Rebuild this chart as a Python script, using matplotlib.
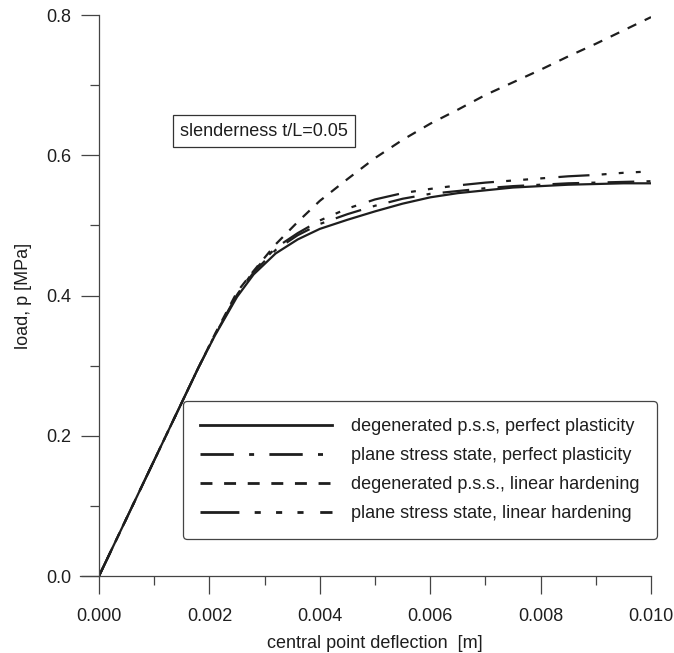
import matplotlib
matplotlib.use("Agg")
import matplotlib.pyplot as plt
from matplotlib.ticker import MultipleLocator

plt.rcParams['font.family'] = ['Liberation Sans', 'DejaVu Sans']

# central point deflection [m]
defl = [0.0, 0.0018, 0.0021, 0.0025, 0.0028, 0.0032, 0.0036, 0.004,
        0.0045, 0.005, 0.0055, 0.006, 0.0065, 0.007, 0.0075, 0.008,
        0.0085, 0.009, 0.0095, 0.010]

# load p [MPa]
deg_pp = [0.0, 0.297, 0.343, 0.398, 0.430, 0.460, 0.480, 0.495,
          0.508, 0.520, 0.531, 0.540, 0.546, 0.550, 0.554, 0.556,
          0.558, 0.559, 0.560, 0.560]
pss_pp = [0.0, 0.297, 0.344, 0.400, 0.433, 0.465, 0.486, 0.502,
          0.516, 0.528, 0.538, 0.545, 0.549, 0.553, 0.556, 0.558,
          0.560, 0.561, 0.562, 0.563]
deg_lh = [0.0, 0.297, 0.345, 0.405, 0.435, 0.473, 0.505, 0.535,
          0.566, 0.596, 0.622, 0.645, 0.665, 0.686, 0.704, 0.722,
          0.741, 0.759, 0.778, 0.797]
pss_lh = [0.0, 0.297, 0.344, 0.401, 0.435, 0.468, 0.489, 0.507,
          0.524, 0.537, 0.546, 0.552, 0.557, 0.561, 0.564, 0.567,
          0.570, 0.572, 0.575, 0.577]

labels = ["degenerated p.s.s, perfect plasticity",
          "plane stress state, perfect plasticity",
          "degenerated p.s.s., linear hardening",
          "plane stress state, linear hardening"]

ink = '#1e1e1e'
fs = 13

fig = plt.figure(figsize=(6.74, 6.53), dpi=100)
ax = fig.add_axes([0.1469, 0.1179, 0.819, 0.8591])

ax.plot(defl, deg_pp, color=ink, lw=1.6, label=labels[0])
ax.plot(defl, pss_pp, color=ink, lw=1.6, dashes=(12, 5.5, 1.8, 5.5), label=labels[1])
ax.plot(defl, deg_lh, color=ink, lw=1.6, dashes=(4.3, 4.2), label=labels[2])
ax.plot(defl, pss_lh, color=ink, lw=1.6,
        dashes=(14, 5.5, 2.2, 5.5, 2.2, 5.5, 2.2, 6), label=labels[3])

ax.set_xlim(0, 0.010)
ax.set_ylim(0, 0.8)
ax.xaxis.set_major_locator(MultipleLocator(0.002))
ax.xaxis.set_minor_locator(MultipleLocator(0.001))
ax.yaxis.set_major_locator(MultipleLocator(0.2))
ax.yaxis.set_minor_locator(MultipleLocator(0.1))
ax.xaxis.set_major_formatter(plt.FormatStrFormatter('%.3f'))
ax.yaxis.set_major_formatter(plt.FormatStrFormatter('%.1f'))

for s in ['top', 'right']:
    ax.spines[s].set_visible(False)
for s in ['left', 'bottom']:
    ax.spines[s].set_color('#444444')
    ax.spines[s].set_linewidth(0.9)
ax.spines['bottom'].set_bounds(-0.00034, 0.010)

ax.tick_params(which='major', direction='out', length=13, width=0.9,
               color='#444444', labelsize=fs, labelcolor=ink)
ax.tick_params(which='minor', direction='out', length=6.5, width=0.9,
               color='#444444')
ax.tick_params(axis='x', which='major', pad=10)
ax.tick_params(axis='y', which='major', pad=7)

ax.set_xlabel("central point deflection  [m]", fontsize=fs, color=ink, labelpad=7)
ax.set_ylabel("load, p [MPa]", fontsize=fs, color=ink, labelpad=10)

ax.text(0.299, 0.793, "slenderness t/L=0.05", transform=ax.transAxes,
        fontsize=fs, color=ink, ha='center', va='center',
        bbox=dict(boxstyle='square,pad=0.4', fc='white', ec='#333333', lw=0.9))

leg = fig.legend(loc='upper left', bbox_to_anchor=(0.2715, 0.386),
                 borderaxespad=0, fontsize=fs, handlelength=7.3,
                 handletextpad=1.05, labelspacing=0.66, borderpad=0.95,
                 frameon=True, fancybox=True, edgecolor='#444444',
                 framealpha=1)
leg.get_frame().set_linewidth(0.9)
for t in leg.get_texts():
    t.set_color(ink)
for h in leg.get_lines():
    h.set_linewidth(2.0)

fig.savefig("out.png", dpi=100, facecolor='white')
